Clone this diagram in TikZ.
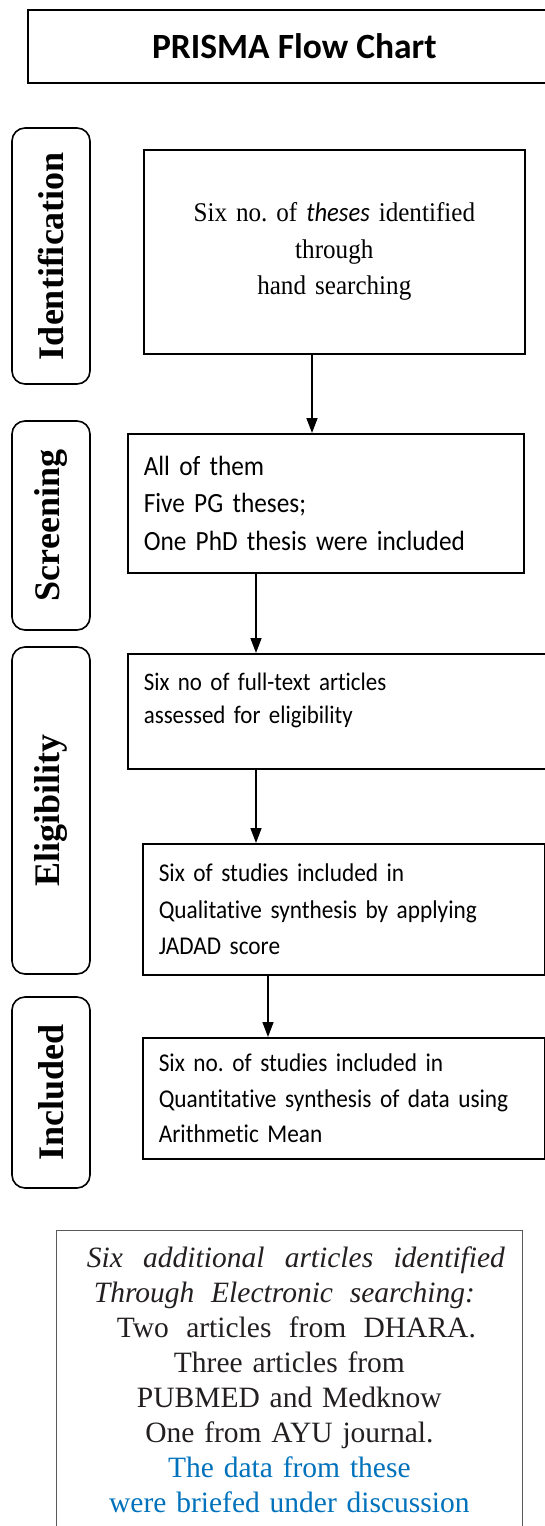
\documentclass[tikz,border=0pt]{standalone}
\usepackage{fontspec}
\setmainfont{Liberation Serif}
\newfontfamily\calibri{Carlito}
\newfontfamily\calibrin[FakeStretch=0.91,Ligatures=NoCommon]{Carlito}
\newfontfamily\timesn[FakeStretch=0.93]{Liberation Serif}
\usetikzlibrary{arrows.meta}
\frenchspacing

\definecolor{inkdark}{RGB}{35,31,32}
\definecolor{noteblue}{RGB}{0,114,188}

\tikzset{
  stagelabel/.style={draw, line width=1.6pt, rounded corners=13pt, rotate=90,
    minimum height=78pt, inner sep=0pt, font=\bfseries\fontsize{36}{40}\selectfont},
  flowbox/.style={draw, line width=1.6pt, anchor=north west, inner xsep=16pt,
    inner ysep=0pt, align=left},
  arr/.style={line width=1.5pt, -{Triangle[length=15pt,width=11pt]}},
}

\begin{document}
\begin{tikzpicture}[x=1pt,y=-1pt]

        \useasboundingbox (0,0) rectangle (545,1526);
        \clip (0,0) rectangle (545,1526);

        \node[draw, line width=1.6pt, anchor=north west, minimum width=533pt, minimum height=73pt,
          font=\calibri\bfseries\fontsize{35.5}{40}\selectfont] (title) at (27,9) {PRISMA Flow Chart};

        \begin{scope}[every node/.style=stagelabel]
          \node[minimum width=256pt] (ident)  at (51,256)    {Identification};
          \node[minimum width=209pt] (screen) at (51,525.5)  {Screening};
          \node[minimum width=327pt] (elig)   at (51,810.5)  {Eligibility};
          \node[minimum width=191pt] (incl)   at (51,1092.5) {Included};
        \end{scope}

        \begin{scope}[every node/.style=flowbox]
          \node[align=center, text width=349pt, minimum height=204pt,
            font=\timesn\fontsize{27}{36.5}\selectfont] (hand) at (143,149)
            {Six no. of {\calibrin\itshape theses} identified\\ through\\ hand searching};
          \node[text width=364pt, minimum height=139pt,
            font=\calibrin\fontsize{27.8}{37.5}\selectfont] (screenbox) at (127,433)
            {All of them\\ Five PG theses;\\ One PhD thesis were included};
          \node[text width=401pt, minimum height=115pt, text depth=59pt,
            font=\calibrin\fontsize{25.2}{33}\selectfont] (fullbox) at (127,653)
            {Six no of full-text articles\\ assessed for eligibility};
          \node[text width=370pt, minimum height=131pt,
            font=\calibrin\fontsize{25.6}{36.5}\selectfont] (qualbox) at (142,843)
            {Six of studies included in\\ Qualitative synthesis by applying\\ JADAD score};
          \node[text width=370pt, minimum height=121pt,
            font=\calibrin\fontsize{25.6}{35.5}\selectfont] (quantbox) at (142,1037)
            {Six no. of studies included in\\ Quantitative synthesis of data using\\ Arithmetic Mean};
        \end{scope}

        \node[draw=gray!70!black, line width=0.8pt, anchor=north west, minimum width=466pt,
          minimum height=298pt, inner xsep=8pt, text width=450pt, align=center, text=inkdark,
          font=\fontsize{29.5}{35}\selectfont] (note) at (56,1230)
          {\makebox[431pt][r]{\makebox[418pt]{\itshape Six\hfill additional\hfill articles\hfill identified}}\\
           \makebox[391pt][l]{\makebox[381pt]{\itshape Through\hfill Electronic\hfill searching:}}\\
           \makebox[373pt][r]{\makebox[359pt]{Two\hfill articles\hfill from\hfill DHARA.}}\\
           Three articles from\\ PUBMED and Medknow\\ One from AYU journal.\\
           \textcolor{noteblue}{The data from these}\\
           \textcolor{noteblue}{were briefed under discussion}};

        \coordinate (colA) at (312,0);
        \coordinate (colB) at (256,0);
        \coordinate (colC) at (268,0);

        \begin{scope}[every edge/.style={draw,arr}]
          \path (colA |- hand.south)      edge (colA |- screenbox.north);
          \path (colB |- screenbox.south) edge (colB |- fullbox.north);
          \path (colB |- fullbox.south)   edge (colB |- qualbox.north);
          \path (colC |- qualbox.south)   edge (colC |- quantbox.north);
        \end{scope}

\end{tikzpicture}
\end{document}
